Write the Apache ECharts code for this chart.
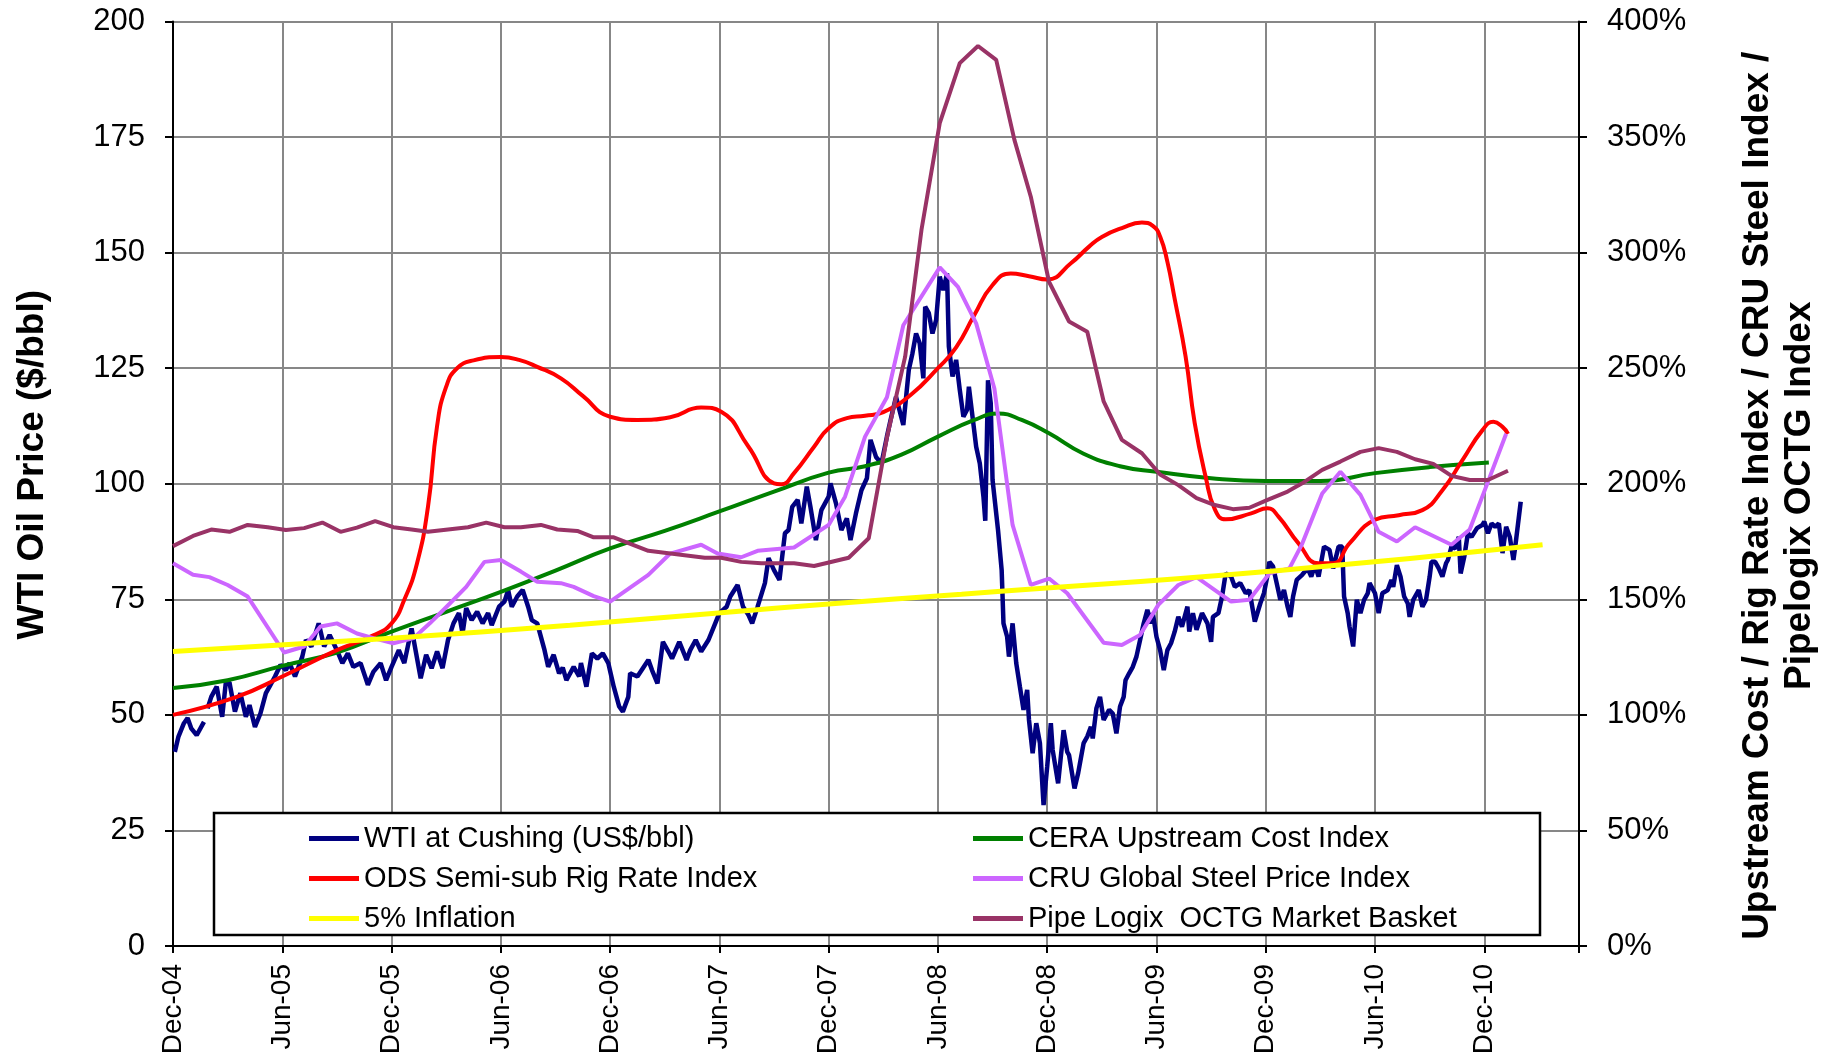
<!DOCTYPE html>
<html>
<head>
<meta charset="utf-8">
<title>WTI vs upstream cost indices</title>
<script src="https://cdn.jsdelivr.net/npm/echarts@6/dist/echarts.min.js"></script>
<style>
  html, body { margin: 0; padding: 0; background: #fff; }
  #chart { width: 1835px; height: 1057px; }
</style>
</head>
<body>
<div id="chart"></div>
<script>
// x = months after Dec-2004, left axis in $/bbl, right axis in %
var tickLabels = ['Dec-04', 'Jun-05', 'Dec-05', 'Jun-06', 'Dec-06', 'Jun-07', 'Dec-07',
  'Jun-08', 'Dec-08', 'Jun-09', 'Dec-09', 'Jun-10', 'Dec-10'];

var wti = [
  [0.1,42.0],[0.3,45.3],[0.6,48.2],[0.8,49.3],[1.0,47.1],[1.3,45.6],[1.7,48.5],[1.8,'-'],[1.9,51.4],
  [2.1,53.9],[2.4,56.1],[2.7,49.6],[2.9,57.0],[3.1,57.0],[3.4,50.7],[3.7,54.7],[4.0,49.6],[4.2,52.1],
  [4.5,47.4],[4.8,50.3],[5.1,54.7],[5.3,56.1],[5.6,58.3],[5.9,60.8],[6.2,59.7],[6.4,61.2],[6.7,58.3],
  [7.1,62.6],[7.3,66.2],[7.6,64.8],[8.0,69.8],[8.3,64.8],[8.6,67.3],[9.0,64.0],[9.3,61.2],[9.6,63.3],
  [9.9,60.4],[10.3,61.2],[10.7,56.5],[11.0,59.3],[11.4,61.2],[11.7,57.5],[12.0,60.4],[12.4,64.0],
  [12.7,61.2],[13.1,68.7],[13.6,57.9],[13.9,63.0],[14.2,60.1],[14.5,63.7],[14.8,60.1],[15.1,66.2],
  [15.4,69.8],[15.7,72.0],[15.9,67.6],[16.1,73.1],[16.4,70.5],[16.7,72.3],[17.0,69.8],[17.3,72.0],
  [17.5,69.4],[17.9,73.4],[18.2,74.5],[18.4,77.0],[18.6,73.4],[18.9,75.6],[19.2,77.0],[19.5,73.4],
  [19.7,70.5],[20.0,69.8],[20.4,64.0],[20.6,60.4],[20.9,63.0],[21.2,59.0],[21.4,60.2],[21.6,57.5],
  [22.0,60.4],[22.3,58.3],[22.4,61.2],[22.7,56.1],[23.0,63.3],[23.3,62.2],[23.6,63.3],[23.9,61.2],
  [24.2,56.1],[24.5,51.8],[24.7,50.7],[25.0,53.9],[25.1,59.0],[25.5,58.3],[25.8,60.1],[26.1,61.9],
  [26.3,59.7],[26.6,56.8],[26.9,65.8],[27.2,63.7],[27.4,62.2],[27.8,65.8],[28.2,61.9],[28.4,64.0],
  [28.7,66.2],[29.0,63.7],[29.4,66.2],[29.7,69.1],[30.0,72.0],[30.4,73.4],[30.6,75.6],[31.0,78.1],
  [31.3,73.4],[31.6,71.6],[31.8,69.8],[32.1,73.4],[32.5,78.5],[32.7,83.9],[33.0,81.3],[33.3,79.2],
  [33.6,89.3],[33.8,90.0],[34.0,95.0],[34.3,96.5],[34.5,91.4],[34.8,99.4],[35.0,95.0],[35.3,87.8],
  [35.6,94.3],[36.0,97.2],[36.1,100.1],[36.4,95.8],[36.7,90.0],[37.0,92.5],[37.2,87.8],[37.5,93.6],
  [37.8,98.6],[38.1,101.2],[38.3,109.5],[38.6,105.8],[38.9,104.4],[39.2,110.2],[39.4,113.8],
  [39.7,118.8],[40.1,112.7],[40.4,124.6],[40.6,128.2],[40.8,132.5],[41.0,130.4],[41.2,122.8],
  [41.3,138.3],[41.5,136.9],[41.7,132.5],[41.9,135.4],[42.1,144.8],[42.3,141.9],[42.5,145.5],
  [42.6,129.7],[42.8,123.2],[43.0,126.8],[43.2,120.3],[43.4,114.5],[43.6,116.0],[43.7,121.0],
  [43.9,114.5],[44.1,108.0],[44.3,104.4],[44.5,97.2],[44.6,92.0],[44.75,122.4],[44.9,117.4],
  [45.0,100.8],[45.3,90.0],[45.5,81.3],[45.6,69.8],[45.8,66.9],[45.9,62.6],[46.1,69.8],[46.3,61.2],
  [46.5,56.1],[46.7,51.1],[46.9,55.4],[47.0,48.9],[47.2,41.7],[47.4,48.2],[47.6,43.9],[47.8,30.5],
  [48.0,38.8],[48.2,48.2],[48.3,42.4],[48.6,35.2],[48.9,46.7],[49.1,42.0],[49.2,41.3],[49.5,34.1],
  [49.7,37.4],[50.0,43.9],[50.2,45.3],[50.4,47.4],[50.5,44.9],[50.7,51.4],[50.9,53.9],[51.1,48.9],
  [51.4,51.1],[51.6,50.3],[51.8,46.0],[52.0,51.8],[52.2,53.9],[52.3,57.5],[52.5,59.0],[52.7,60.4],
  [52.9,62.6],[53.1,66.2],[53.3,69.8],[53.5,72.7],[53.7,69.8],[53.8,72.0],[54.0,66.9],[54.2,64.0],
  [54.4,59.7],[54.6,64.0],[54.8,65.5],[55.0,68.0],[55.2,71.2],[55.4,69.1],[55.7,73.4],[55.8,68.0],
  [56.0,72.0],[56.2,68.4],[56.5,72.0],[56.8,69.8],[57.0,65.8],[57.1,71.2],[57.4,72.0],[57.6,75.6],
  [57.8,80.6],[58.1,79.9],[58.3,77.7],[58.6,78.5],[58.9,76.3],[59.1,77.0],[59.4,70.2],[59.7,74.1],
  [59.9,76.3],[60.1,80.3],[60.2,83.1],[60.4,82.1],[60.6,78.5],[60.8,74.9],[61.0,77.0],[61.2,73.4],
  [61.35,71.2],[61.5,75.6],[61.7,79.2],[62.0,80.3],[62.3,81.7],[62.5,79.9],[62.7,82.4],[62.9,79.9],
  [63.2,86.4],[63.5,85.7],[63.7,81.7],[64.0,86.4],[64.2,86.4],[64.3,75.6],[64.5,72.0],[64.6,69.1],
  [64.8,64.8],[65.0,74.9],[65.2,72.0],[65.4,74.9],[65.6,76.3],[65.7,78.5],[66.0,76.3],[66.2,72.0],
  [66.4,76.3],[66.7,77.0],[66.9,79.2],[67.0,77.7],[67.2,82.4],[67.4,79.9],[67.6,75.6],[67.8,74.1],
  [67.9,71.2],[68.1,74.9],[68.4,77.0],[68.6,73.4],[68.8,74.9],[69.0,79.9],[69.1,83.1],[69.3,83.1],
  [69.5,81.7],[69.7,79.9],[69.9,82.8],[70.0,83.5],[70.2,86.4],[70.4,86.0],[70.6,88.5],[70.7,80.6],
  [70.9,84.2],[71.1,89.3],[71.3,88.5],[71.6,90.4],[71.9,91.1],[72.0,91.8],[72.2,89.3],[72.4,91.4],
  [72.6,90.7],[72.8,91.4],[73.0,85.0],[73.2,90.7],[73.4,88.5],[73.6,83.5],[73.7,86.4],[74.0,96.1]
];

var cera = [
  [0,111.6],[3,115],[6,121.2],[9,127],[12,136],[15,144.6],[18,153.2],[21,162.4],[24,172],[27,179.6],
  [30,188],[33,196.6],[36,204.8],[38,207.6],[40,212.6],[42,220.4],[44,227.6],[45.3,230.4],[46.6,227.6],
  [48.1,221.8],[50,213],[52,207.6],[54,205.2],[57,202.4],[60,201.2],[63,201.2],[66,204.6],[69,207.2],
  [72.25,209.2]
];

var ods = [
  [0,100],[3.5,107.8],[6,116.6],[9,128],[11,134.4],[12,139.6],[12.7,149.8],[13.4,165.6],[14,190],
  [14.5,225],[15,242],[15.6,250],[16.5,253.4],[18,254.8],[19,253.6],[20,250.6],[21.3,245.6],[22.5,238],
  [24,229],[25.5,227.6],[27.3,228.8],[29,233],[30.1,231.2],[31.6,216],[33,200.2],[33.4,199.8],
  [34.1,204.6],[35.2,216],[36,224],[37,228.4],[38,229.4],[39,231],[40.5,238.4],[42,250],[43,259],
  [44,273],[45,286],[46,291],[47,289.8],[48,288.4],[49.3,295.4],[50.3,302.6],[51,306.8],[52.1,310.6],
  [53.2,313],[53.8,311.6],[54.2,307],[54.6,296],[55,280],[55.6,255],[56.1,226.2],[56.7,203],[57.2,189],
  [57.8,184.6],[59.2,187.2],[60.1,189.4],[60.7,185.8],[61.8,174.2],[62.9,165.6],[63.7,165.6],
  [64.6,174.2],[66,184.4],[67.3,186.4],[68.6,188.6],[69.7,197.2],[70.8,210.2],[71.9,223.2],
  [72.5,226.8],[73,224.6],[73.3,221.6]
];

var cru = [
  [0,165.6],[1.1,160.6],[2.0,159.6],[3.0,156.2],[4.1,151.2],[6.1,127],[7.2,129.6],[8.1,138.2],
  [9.0,139.6],[10.1,135.2],[11.0,133.2],[12.1,131],[13.2,133.2],[14.1,139.6],[15.2,148.2],[16.1,155.4],
  [17.1,166.2],[18.0,167],[19.1,162],[20.0,157.6],[21.3,157],[22.0,155.4],[23.1,151.4],[24.0,149],
  [26.1,160.6],[27.3,169.8],[29.0,173.6],[29.9,169.8],[31.2,168.2],[32.1,171],[34.1,172.4],[36.0,182.2],
  [36.9,194.4],[38.0,220.4],[39.2,237.4],[40.1,268.6],[42.1,293.6],[43.1,285.2],[44.1,269.4],
  [45.1,241.2],[46.1,182.2],[47.1,156.2],[48.1,159],[49.1,152.6],[51.1,131.2],[52.1,130.2],[53.1,134.6],
  [54.1,147.6],[55.2,156.2],[56.2,159.6],[58.1,149],[59.1,149.8],[60.2,161.2],[61.3,163.4],[62.0,174],
  [63.1,195.8],[64.1,205.2],[65.2,195.2],[66.2,179.2],[67.2,175],[68.2,181.2],[70.2,173.6],[71.2,180.2],
  [72.2,200.8],[73.2,221.6]
];

var inflation = [
  [0,127.4],[12,133.2],[21.8,138.8],[30.1,144.2],[36,148],[43.3,152.2],[60.9,162.6],[75.2,173.6]
];

var pipe = [
  [0,173],[1.1,177.4],[2.1,180.2],[3.1,179.2],[4.1,182.2],[5.2,181.2],[6.2,180],[7.2,180.8],[8.2,183.2],
  [9.2,179.2],[10.1,181],[11.1,183.8],[12.1,181.2],[13.1,180.2],[14.0,179.2],[15.1,180.2],[16.2,181.2],
  [17.2,183.2],[18.2,181.2],[19.1,181.2],[20.2,182.2],[21.1,180.2],[22.2,179.6],[23.1,176.8],[24.2,176.8],
  [26.1,171],[29.2,168],[30.1,168],[31.2,166.2],[32.3,165.6],[34.1,165.6],[35.2,164.4],[37.1,168],
  [38.2,176.4],[39.2,220],[40.2,255],[41.1,310],[42.1,356],[43.2,382],[44.2,389.4],[45.2,383.4],
  [46.2,348.8],[47.1,324.2],[48.1,287.4],[49.2,270.2],[50.2,265.8],[51.1,235.6],[52.1,219],[53.2,213.2],
  [54.2,204],[55.2,199.4],[56.2,193.8],[57.2,190.8],[58.2,189],[59.1,189.6],[60.1,193],[61.2,196.6],
  [62.0,200.2],[63.1,206],[64.1,209.6],[65.2,213.8],[66.2,215.4],[67.2,213.8],[68.2,210.6],[69.2,208.6],
  [70.2,203.4],[71.2,201.6],[72.2,201.6],[73.3,205.6]
];

var font = 'Liberation Sans, Arial, sans-serif';
var gridColor = '#878787';

function line(name, data, color, axis, width, smooth, z) {
  return {
    name: name, type: 'line', data: data, yAxisIndex: axis,
    symbol: 'none', showSymbol: false, smooth: smooth,
    lineStyle: { color: color, width: width }, itemStyle: { color: color },
    z: z, animation: false
  };
}

var legendCommon = {
  orient: 'vertical', top: 819, itemWidth: 50, itemHeight: 5, itemGap: 11, icon: 'rect',
  textStyle: { fontSize: 29, color: '#000', fontFamily: font }, z: 5
};

var chart = echarts.init(document.getElementById('chart'));
chart.setOption({
  animation: false,
  backgroundColor: '#fff',
  textStyle: { fontFamily: font, color: '#000' },
  grid: { left: 173, right: 256, top: 21.5, bottom: 111, outerBoundsMode: 'none' },
  xAxis: {
    type: 'value', min: 0, max: 77.2, interval: 6,
    axisLine: { onZero: false, lineStyle: { color: '#000', width: 2 } },
    axisTick: { length: 7, lineStyle: { color: '#000', width: 2 } },
    axisLabel: {
      rotate: 90, fontSize: 28, margin: 18, color: '#000', fontFamily: font,
      formatter: function (v) {
        var i = Math.round(v / 6);
        return Math.abs(v - i * 6) < 1e-6 && tickLabels[i] ? tickLabels[i] : '';
      }
    },
    splitLine: { show: true, lineStyle: { color: gridColor, width: 2 } }
  },
  yAxis: [{
    type: 'value', position: 'left', min: 0, max: 200, interval: 25,
    name: 'WTI Oil Price ($/bbl)', nameLocation: 'middle', nameRotate: 90, nameGap: 122,
    nameTextStyle: { fontSize: 37, fontWeight: 'bold', color: '#000', fontFamily: font, padding: [0, 0, 0, 38] },
    axisLine: { show: true, lineStyle: { color: '#000', width: 2 } },
    axisTick: { show: true, length: 8, lineStyle: { color: '#000', width: 2 } },
    axisLabel: { fontSize: 31, margin: 28, color: '#000', fontFamily: font },
    splitLine: { show: true, lineStyle: { color: gridColor, width: 2 } }
  }, {
    type: 'value', position: 'right', min: 0, max: 400, interval: 50,
    name: 'Upstream Cost / Rig Rate Index / CRU Steel Index /\nPipelogix OCTG Index',
    nameLocation: 'middle', nameRotate: 90, nameGap: 158,
    nameTextStyle: {
      fontSize: 37, fontWeight: 'bold', color: '#000', fontFamily: font, lineHeight: 42,
      padding: [0, 24, 0, 0]
    },
    axisLine: { show: true, lineStyle: { color: '#000', width: 2 } },
    axisTick: { show: true, length: 8, lineStyle: { color: '#000', width: 2 } },
    axisLabel: { fontSize: 31, margin: 28, color: '#000', fontFamily: font, formatter: '{value}%' },
    splitLine: { show: false }
  }],
  legend: [
    Object.assign({ left: 304, data: ['WTI at Cushing (US$/bbl)', 'ODS Semi-sub Rig Rate Index', '5% Inflation'] }, legendCommon),
    Object.assign({ left: 968, data: ['CERA Upstream Cost Index', 'CRU Global Steel Price Index', 'Pipe Logix  OCTG Market Basket'] }, legendCommon)
  ],
  graphic: [{
    type: 'rect', z: 4,
    shape: { x: 214, y: 813, width: 1326, height: 122 },
    style: { fill: '#fff', stroke: '#000', lineWidth: 2.5 }
  }],
  series: [
    line('WTI at Cushing (US$/bbl)', wti, '#000080', 0, 4.5, false, 2),
    line('CERA Upstream Cost Index', cera, '#008000', 1, 4, 0.5, 3),
    line('ODS Semi-sub Rig Rate Index', ods, '#ff0000', 1, 4, 0.5, 3),
    line('CRU Global Steel Price Index', cru, '#cc66ff', 1, 4, false, 3),
    line('5% Inflation', inflation, '#ffff00', 1, 5, 0.5, 3),
    line('Pipe Logix  OCTG Market Basket', pipe, '#993366', 1, 4, false, 3)
  ]
});
</script>
</body>
</html>
